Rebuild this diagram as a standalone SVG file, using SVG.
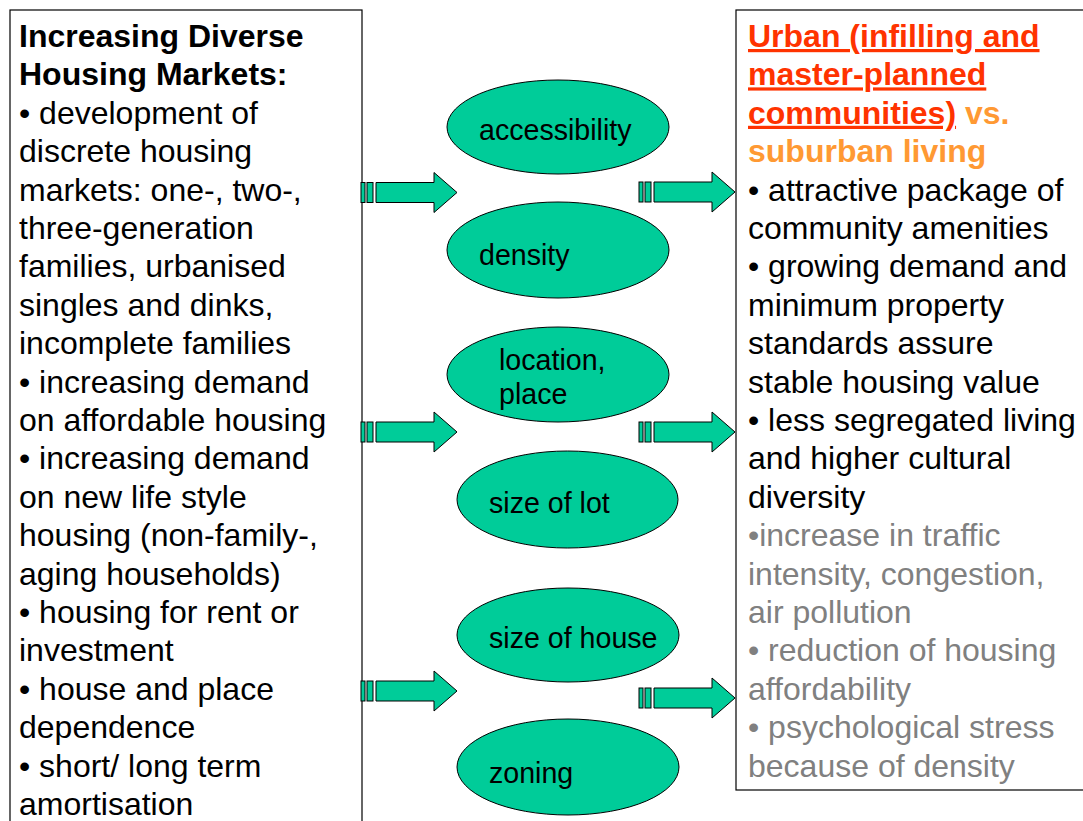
<svg xmlns="http://www.w3.org/2000/svg" width="1083" height="821" viewBox="0 0 1083 821">
<style>
.box{fill:#fff;stroke:#000;stroke-width:1.2}
.t{font-family:"Liberation Sans",Arial,sans-serif;font-size:32px;fill:#000}
.b{font-weight:bold}
.red{fill:#FF3300;text-decoration:underline}
.org{fill:#FF9933}
.gray{fill:#808080}
.ell{fill:#00CC99;stroke:#000;stroke-width:1}
.et{font-family:"Liberation Sans",Arial,sans-serif;font-size:28.6px;fill:#000}
.arr{fill:#00CC99;stroke:#000;stroke-width:1}
</style>
<defs>
<g id="arrow">
<rect class="arr" x="-96" y="-10" width="4" height="20"/>
<rect class="arr" x="-90" y="-10" width="6" height="20"/>
<polygon class="arr" points="-81,-10 -23,-10 -23,-20 0,0 -23,20 -23,10 -81,10"/>
</g>
</defs>
<g id="left-box">
<rect class="box" x="10" y="10" width="352" height="830"/>
<text class="t">
<tspan class="b" x="19" y="47">Increasing Diverse</tspan>
<tspan class="b" x="19" y="85.4">Housing Markets:</tspan>
<tspan x="19" y="123.8">• development of</tspan>
<tspan x="19" y="162.2">discrete housing</tspan>
<tspan x="19" y="200.6">markets: one-, two-,</tspan>
<tspan x="19" y="239">three-generation</tspan>
<tspan x="19" y="277.4">families, urbanised</tspan>
<tspan x="19" y="315.8">singles and dinks,</tspan>
<tspan x="19" y="354.2">incomplete families</tspan>
<tspan x="19" y="392.6">• increasing demand</tspan>
<tspan x="19" y="431">on affordable housing</tspan>
<tspan x="19" y="469.4">• increasing demand</tspan>
<tspan x="19" y="507.8">on new life style</tspan>
<tspan x="19" y="546.2">housing (non-family-,</tspan>
<tspan x="19" y="584.6">aging households)</tspan>
<tspan x="19" y="623">• housing for rent or</tspan>
<tspan x="19" y="661.4">investment</tspan>
<tspan x="19" y="699.8">• house and place</tspan>
<tspan x="19" y="738.2">dependence</tspan>
<tspan x="19" y="776.6">• short/ long term</tspan>
<tspan x="19" y="815">amortisation</tspan>
</text>
</g>
<g id="right-box">
<rect class="box" x="736" y="10" width="360" height="780"/>
<text class="t b">
<tspan class="red" x="748" y="47">Urban (infilling and</tspan>
<tspan class="red" x="748" y="85.4">master-planned</tspan>
<tspan class="red" x="748" y="123.8">communities)</tspan><tspan class="org"> vs.</tspan>
<tspan class="org" x="748" y="162.2">suburban living</tspan>
</text>
<text class="t">
<tspan x="748" y="200.6">• attractive package of</tspan>
<tspan x="748" y="239">community amenities</tspan>
<tspan x="748" y="277.4">• growing demand and</tspan>
<tspan x="748" y="315.8">minimum property</tspan>
<tspan x="748" y="354.2">standards assure</tspan>
<tspan x="748" y="392.6">stable housing value</tspan>
<tspan x="748" y="431">• less segregated living</tspan>
<tspan x="748" y="469.4">and higher cultural</tspan>
<tspan x="748" y="507.8">diversity</tspan>
</text>
<text class="t gray">
<tspan x="748" y="546.2">•increase in traffic</tspan>
<tspan x="748" y="584.6">intensity, congestion,</tspan>
<tspan x="748" y="623">air pollution</tspan>
<tspan x="748" y="661.4">• reduction of housing</tspan>
<tspan x="748" y="699.8">affordability</tspan>
<tspan x="748" y="738.2">• psychological stress</tspan>
<tspan x="748" y="776.6">because of density</tspan>
</text>
</g>
<g id="node-accessibility">
<ellipse class="ell" cx="558" cy="127" rx="111" ry="47"/>
<text class="et" x="479" y="140">accessibility</text>
</g>
<g id="node-density">
<ellipse class="ell" cx="558" cy="250" rx="111" ry="48"/>
<text class="et" x="479" y="265">density</text>
</g>
<g id="node-location">
<ellipse class="ell" cx="558" cy="374.5" rx="111" ry="47.5"/>
<text class="et"><tspan x="499" y="370">location,</tspan><tspan x="499" y="404">place</tspan></text>
</g>
<g id="node-lot">
<ellipse class="ell" cx="567.5" cy="499.5" rx="110.5" ry="48.5"/>
<text class="et" x="489" y="513">size of lot</text>
</g>
<g id="node-house">
<ellipse class="ell" cx="568" cy="635" rx="111" ry="47"/>
<text class="et" x="489" y="648">size of house</text>
</g>
<g id="node-zoning">
<ellipse class="ell" cx="568" cy="767" rx="111" ry="48"/>
<text class="et" x="489" y="783">zoning</text>
</g>
<g id="connectors">
<use href="#arrow" transform="translate(457,192.5)"/>
<use href="#arrow" transform="translate(735,192)"/>
<use href="#arrow" transform="translate(457,432)"/>
<use href="#arrow" transform="translate(735,432)"/>
<use href="#arrow" transform="translate(457,691)"/>
<use href="#arrow" transform="translate(735,698)"/>
</g>
</svg>
